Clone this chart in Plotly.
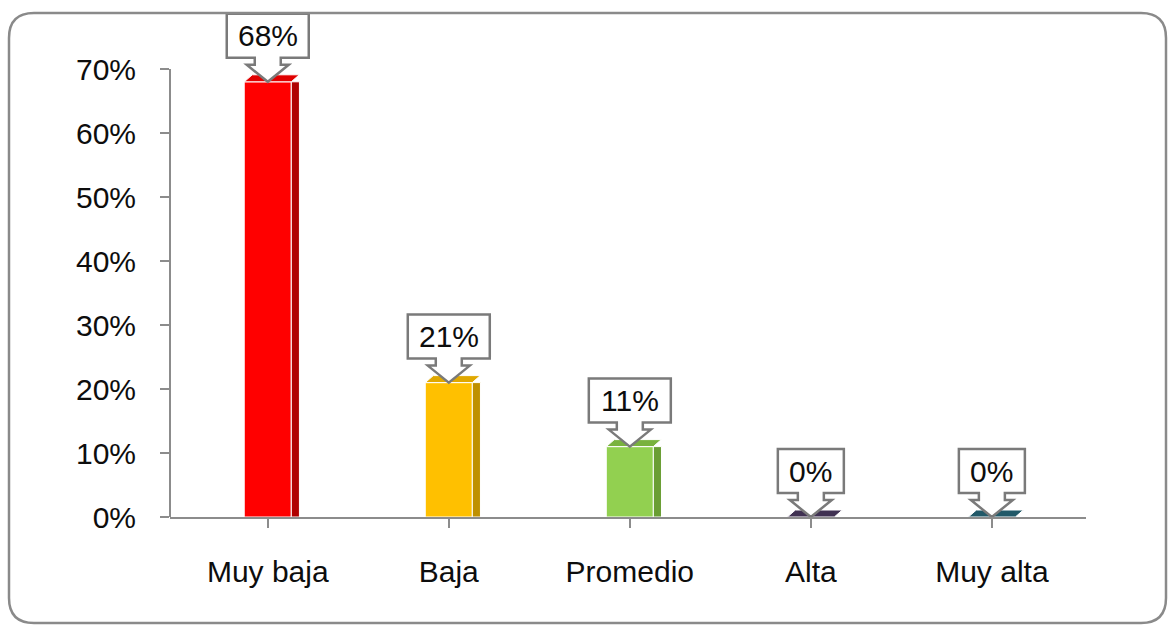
import plotly.graph_objects as go

categories = ["Muy baja", "Baja", "Promedio", "Alta", "Muy alta"]
values = [0.68, 0.21, 0.11, 0.0, 0.0]
labels = ["68%", "21%", "11%", "0%", "0%"]
front_colors = ["#FF0000", "#FFC000", "#92D050", "#403152", "#215968"]
side_colors = ["#B00000", "#BF9000", "#6A9E34", "#2A2036", "#16404A"]
top_colors = ["#E00000", "#E0A800", "#79B23E", "#403152", "#215968"]
y_ticks = [0, 0.1, 0.2, 0.3, 0.4, 0.5, 0.6, 0.7]
y_ticktext = ["0%", "10%", "20%", "30%", "40%", "50%", "60%", "70%"]

Y_MAX = 0.80
FONT = "Liberation Sans, Arial, sans-serif"
GRAY = "#8c8c8c"
TXT = "#0d0d0d"

idx = list(range(len(categories)))

fig = go.Figure()
# front faces
fig.add_trace(go.Bar(
    x=idx, y=values, width=0.26, offset=-0.13,
    marker=dict(color=front_colors, line=dict(color="white", width=1)),
    hoverinfo="skip", showlegend=False,
))
# side faces
fig.add_trace(go.Bar(
    x=idx, y=values, width=0.045, offset=0.13,
    marker=dict(color=side_colors, line=dict(color="white", width=1)),
    hoverinfo="skip", showlegend=False,
))

shapes = []
annotations = []
for i, (v, t) in enumerate(zip(values, labels)):
    # top face of the bar (pixel parallelogram anchored at the bar top)
    shapes.append(dict(
        type="path", xref="x", yref="y", xsizemode="pixel", ysizemode="pixel",
        xanchor=i, yanchor=v, path="M-23.5,0 L23.5,0 L31.5,7 L-15.5,7 Z",
        fillcolor=top_colors[i], line=dict(color="white", width=1), layer="above",
    ))
    half = 17 + 8 * len(t)
    box_bottom, box_top = 24, 68
    path = (f"M0,0 L-21,17 L-13,17 L-13,{box_bottom} L-{half},{box_bottom} "
            f"L-{half},{box_top} L{half},{box_top} L{half},{box_bottom} "
            f"L13,{box_bottom} L13,17 L21,17 Z")
    shapes.append(dict(
        type="path", xref="x", yref="y", xsizemode="pixel", ysizemode="pixel",
        xanchor=i, yanchor=v, path=path,
        fillcolor="white", line=dict(color="#7a7a7a", width=2.5), layer="above",
    ))
    annotations.append(dict(
        x=i, y=v, xref="x", yref="y", text=t, showarrow=False,
        yshift=(box_bottom + box_top) / 2, yanchor="middle", xanchor="center",
        font=dict(family=FONT, size=30, color=TXT),
    ))

# y axis line (only up to 70%)
shapes.append(dict(type="line", xref="paper", yref="paper", x0=0, x1=0,
                   y0=0, y1=0.7 / Y_MAX, line=dict(color=GRAY, width=2)))

# rounded outer frame (pixel path relative to plot-area origin)
L, R, T, B, r = -161, 996, 504, -106, 25
frame = (f"M{L + r},{T} L{R - r},{T} Q{R},{T} {R},{T - r} L{R},{B + r} "
         f"Q{R},{B} {R - r},{B} L{L + r},{B} Q{L},{B} {L},{B + r} "
         f"L{L},{T - r} Q{L},{T} {L + r},{T} Z")
shapes.append(dict(type="path", xref="paper", yref="paper", xsizemode="pixel",
                   ysizemode="pixel", xanchor=0, yanchor=0, path=frame,
                   line=dict(color="#8a8a8a", width=2.5), fillcolor="rgba(0,0,0,0)"))

fig.update_layout(
    width=1172, height=626,
    margin=dict(l=170, r=86, t=5, b=109),
    paper_bgcolor="white", plot_bgcolor="white",
    barmode="overlay",
    shapes=shapes, annotations=annotations,
    font=dict(family=FONT, size=30, color=TXT),
    xaxis=dict(
        range=[-0.54, 4.52], tickmode="array", tickvals=idx, ticktext=categories,
        tickson="boundaries", ticks="outside", ticklen=9, tickwidth=2, tickcolor=GRAY,
        showline=True, linecolor=GRAY, linewidth=2, showgrid=False, zeroline=False,
        tickfont=dict(family=FONT, size=30, color=TXT), ticklabelstandoff=18,
    ),
    yaxis=dict(
        range=[0, Y_MAX], tickmode="array", tickvals=y_ticks, ticktext=y_ticktext,
        ticks="outside", ticklen=9, tickwidth=2, tickcolor=GRAY,
        showline=False, showgrid=False, zeroline=False,
        tickfont=dict(family=FONT, size=30, color=TXT), ticklabelstandoff=18,
    ),
)

fig.write_html(
    "out.html",
    config={"displayModeBar": False},
    post_script="document.body.style.margin='0';document.body.style.overflow='hidden';",
)
